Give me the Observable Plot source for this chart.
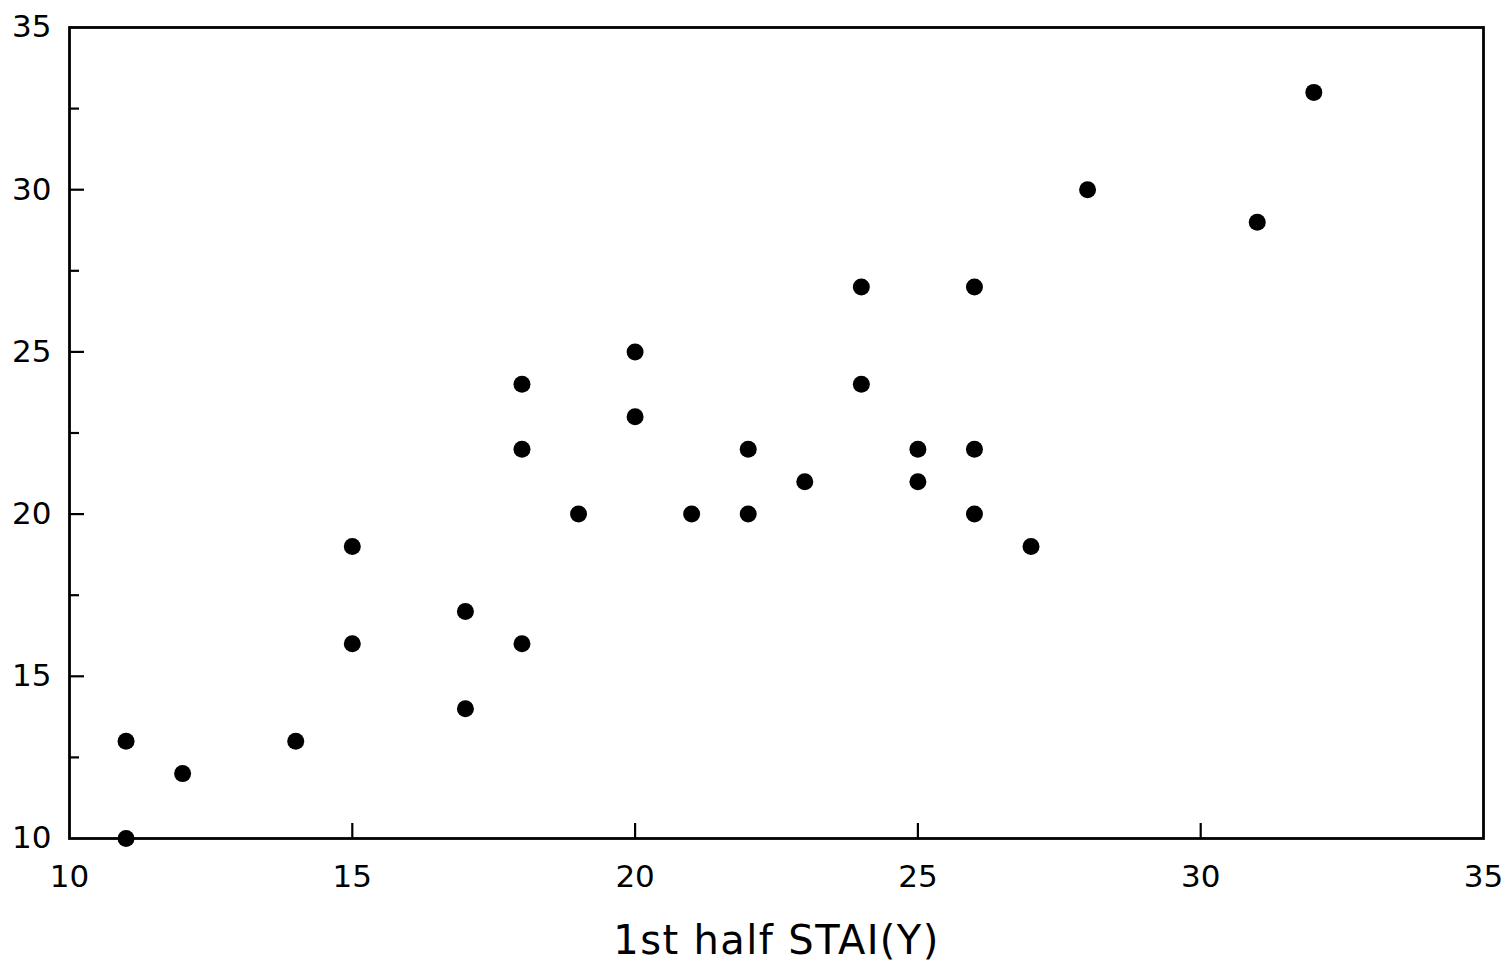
<!DOCTYPE html>
<html>
<head>
<meta charset="utf-8">
<script src="https://cdn.jsdelivr.net/npm/d3@7"></script>
<script src="https://cdn.jsdelivr.net/npm/@observablehq/plot@0.6"></script>
<style>
  html, body { margin: 0; padding: 0; background: #fff; }
  #chart svg { display: block; }
  #chart svg g[aria-label="text"] text { letter-spacing: 1.4px; }
</style>
</head>
<body>
<div id="chart"></div>
<script>
// 1st half STAI(Y) (x) vs second score (y)
const xValues = [11, 11, 12, 14, 15, 15, 17, 17, 18, 18, 18, 19, 20, 20, 21, 22, 22, 23, 24, 24, 25, 25, 26, 26, 26, 27, 28, 31, 32];
const yValues = [13, 10, 12, 13, 19, 16, 17, 14, 24, 22, 16, 20, 25, 23, 20, 22, 20, 21, 27, 24, 22, 21, 27, 22, 20, 19, 30, 29, 33];
const tickLabels = [10, 15, 20, 25, 30, 35];
const xMajorTicks = [15, 20, 25, 30];
const yMajorTicks = [15, 20, 25, 30];
const yMinorTicks = [12.5, 17.5, 22.5, 27.5, 32.5];
const xTitle = "1st half STAI(Y)";

const points = xValues.map((x, i) => ({x, y: yValues[i]}));

const chart = Plot.plot({
  width: 1506,
  height: 969,
  marginLeft: 69,
  marginRight: 23,
  marginTop: 27,
  marginBottom: 131,
  style: {fontFamily: "'DejaVu Sans', sans-serif", color: "#000", background: "#fff"},
  x: {domain: [10, 35], axis: null},
  y: {domain: [10, 35], axis: null},
  marks: [
    Plot.frame({stroke: "#000", strokeWidth: 2.8}),
    // inward ticks
    Plot.axisX(xMajorTicks, {anchor: "bottom", tickSize: -15, tickFormat: () => "", stroke: "#000", strokeWidth: 2.2, label: null}),
    Plot.axisY(yMajorTicks, {anchor: "left", tickSize: -15, tickFormat: () => "", stroke: "#000", strokeWidth: 2.2, label: null}),
    Plot.axisY(yMinorTicks, {anchor: "left", tickSize: -10, tickFormat: () => "", stroke: "#000", strokeWidth: 2.2, label: null}),
    // tick labels
    Plot.axisX(tickLabels, {anchor: "bottom", tickSize: 0, tickPadding: 26, fontSize: 31, label: null}),
    Plot.axisY(tickLabels, {anchor: "left", tickSize: 0, tickPadding: 18, fontSize: 31, label: null}),
    // axis title
    Plot.text([xTitle], {frameAnchor: "bottom", dy: 115, fontSize: 40, fill: "#000"}),
    Plot.dot(points, {x: "x", y: "y", r: 8.5, fill: "#000", stroke: "none"})
  ]
});
document.getElementById("chart").append(chart);
</script>
</body>
</html>
